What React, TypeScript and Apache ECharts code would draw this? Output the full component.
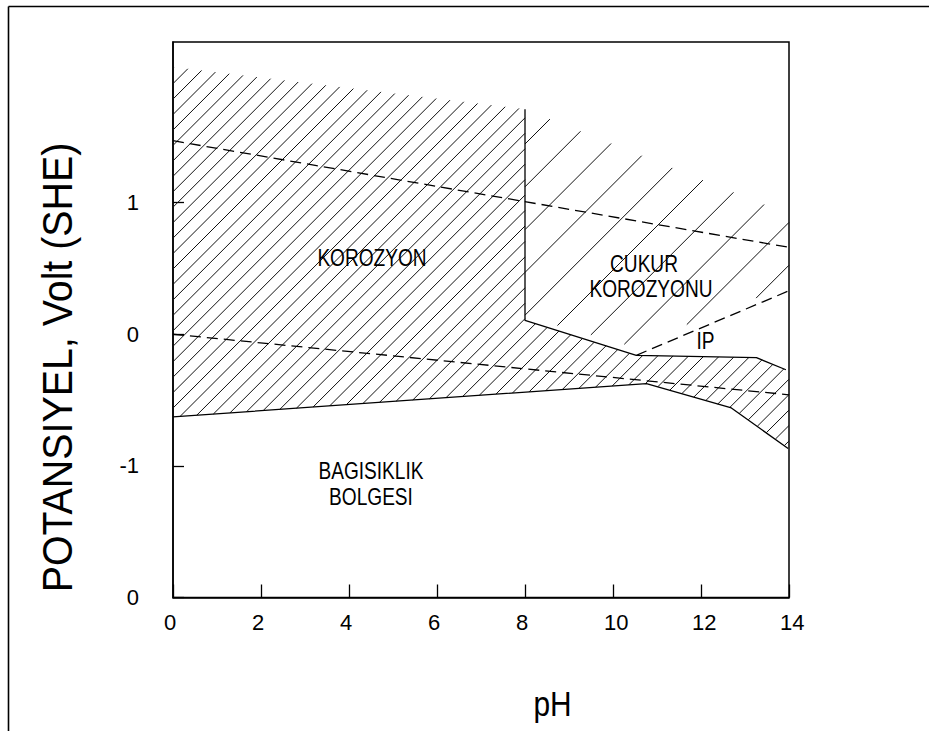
import React, { useEffect, useRef } from 'react';
import * as echarts from 'echarts';

// pH axis ticks and potential (V, SHE) axis ticks/labels as printed
const phTickValues = [0, 2, 4, 6, 8, 10, 12, 14];
const potentialTickValues = [-2, -1, 0, 1];
const potentialTickLabels = ['0', '-1', '0', '1'];

// Region outlines [pH, E (V)]
const corrosionZone = [
  [0, 2.03], [8, 1.71], [8, 0.105], [10.53, -0.16], [13.26, -0.178], [14, -0.28],
  [14, -0.87], [12.69, -0.56], [10.76, -0.375], [0, -0.628],
];
const pittingZone = [
  [8, 1.71], [14, 0.91], [14, 0.37], [10.4, -0.09], [8, 0.135],
];

// Boundary lines
const passiveBoundary = [[8, 1.71], [8, 0.105], [10.53, -0.16], [13.26, -0.178], [13.93, -0.27]];
const immunityBoundary = [[0, -0.628], [10.76, -0.375], [12.69, -0.56], [13.98, -0.868]];
const oxygenLine = [[0, 1.47], [14, 0.66]];
const hydrogenLine = [[0, 0], [14, -0.46]];
const pittingPotentialLine = [[10.53, -0.16], [14, 0.33]];

// Region labels
const regionLabels = [
  { text: 'KOROZYON', x: 372, y: 257.5 },
  { text: 'CUKUR', x: 644, y: 264 },
  { text: 'KOROZYONU', x: 651, y: 288.5 },
  { text: 'IP', x: 705.5, y: 341 },
  { text: 'BAGISIKLIK', x: 371, y: 471 },
  { text: 'BOLGESI', x: 371, y: 497 },
];

const DENSE_STEP = 15.45;
const DENSE_PHASE = 256.6;
const SPARSE_STEP = 42.8;
const SPARSE_PHASE = 669;

function hatch(poly: number[][], step: number, phase: number) {
  const sums = poly.map((p) => p[0] + p[1]);
  const cMin = Math.min(...sums);
  const cMax = Math.max(...sums);
  const kStart = Math.ceil((cMin - phase) / step);
  const kEnd = Math.floor((cMax - phase) / step);
  const segs: number[][][] = [];
  for (let k = kStart; k <= kEnd; k++) {
    const c = phase + k * step;
    const pts: number[][] = [];
    for (let i = 0; i < poly.length; i++) {
      const a = poly[i];
      const b = poly[(i + 1) % poly.length];
      const fa = a[0] + a[1] - c;
      const fb = b[0] + b[1] - c;
      if ((fa < 0 && fb >= 0) || (fb < 0 && fa >= 0)) {
        const t = fa / (fa - fb);
        pts.push([a[0] + t * (b[0] - a[0]), a[1] + t * (b[1] - a[1])]);
      }
    }
    pts.sort((p, q) => p[0] - q[0]);
    for (let j = 0; j + 1 < pts.length; j += 2) segs.push([pts[j], pts[j + 1]]);
  }
  return segs;
}

function hatchSeries(zone: number[][], step: number, phase: number) {
  return {
    type: 'custom',
    coordinateSystem: 'cartesian2d',
    silent: true,
    z: 1,
    data: [zone[0]],
    renderItem: (_params: any, api: any) => {
      const poly = zone.map((p) => api.coord(p));
      const segs = hatch(poly, step, phase);
      return {
        type: 'group',
        children: segs.map((s) => ({
          type: 'line',
          shape: { x1: s[0][0], y1: s[0][1], x2: s[1][0], y2: s[1][1] },
          style: { stroke: '#111', lineWidth: 1 },
        })),
      };
    },
  };
}

function lineSeries(data: number[][], dashed: boolean) {
  return {
    type: 'line',
    data,
    symbol: 'none',
    silent: true,
    z: 3,
    lineStyle: { color: '#000', width: 1.3, type: dashed ? [11, 6] : 'solid' },
  };
}

const FONT = "'Liberation Sans', Arial, sans-serif";

export default function App() {
  const ref = useRef<HTMLDivElement>(null);
  useEffect(() => {
    if (!ref.current) return;
    const chart = echarts.init(ref.current, null, { renderer: 'svg' });
    chart.setOption({
      animation: false,
      backgroundColor: '#fff',
      grid: {
        left: 173, top: 42, right: 140, bottom: 133.5,
        show: true, borderColor: '#000', borderWidth: 1.5, backgroundColor: 'transparent',
      },
      xAxis: {
        type: 'value', min: 0, max: 14, interval: 2,
        axisLine: { onZero: false, lineStyle: { color: '#000', width: 1.5 } },
        axisTick: { inside: true, length: 13, lineStyle: { color: '#000', width: 1.3 }, customValues: phTickValues },
        axisLabel: {
          color: '#000', fontSize: 22, fontFamily: FONT, margin: 14,
          align: 'left', padding: [0, 0, 0, -9], customValues: phTickValues,
        },
        splitLine: { show: false },
      },
      yAxis: {
        type: 'value', min: -2, max: 2.22, interval: 1,
        axisLine: { show: true, onZero: false, lineStyle: { color: '#000', width: 1.5 } },
        axisTick: { show: true, inside: true, length: 11, lineStyle: { color: '#000', width: 1.3 }, customValues: potentialTickValues },
        axisLabel: {
          color: '#000', fontSize: 22, fontFamily: FONT, margin: 34,
          customValues: potentialTickValues,
          formatter: (v: number) => {
            const i = potentialTickValues.indexOf(Math.round(v));
            return i >= 0 ? potentialTickLabels[i] : '';
          },
        },
        splitLine: { show: false },
      },
      series: [
        hatchSeries(corrosionZone, DENSE_STEP, DENSE_PHASE),
        hatchSeries(pittingZone, SPARSE_STEP, SPARSE_PHASE),
        lineSeries(passiveBoundary, false),
        lineSeries(immunityBoundary, false),
        lineSeries(oxygenLine, true),
        lineSeries(hydrogenLine, true),
        lineSeries(pittingPotentialLine, true),
      ],
      graphic: [
        { type: 'line', silent: true, shape: { x1: 8.5, y1: 6.5, x2: 929, y2: 6.5 }, style: { stroke: '#000', lineWidth: 1.6 } },
        { type: 'line', silent: true, shape: { x1: 8.5, y1: 6.5, x2: 8.5, y2: 731 }, style: { stroke: '#000', lineWidth: 1.6 } },
        ...regionLabels.map((l) => ({
          type: 'text', silent: true, x: l.x, y: l.y, scaleX: 0.83, z: 10,
          style: { text: l.text, fill: '#000', font: `23px ${FONT}`, align: 'center', verticalAlign: 'middle' },
        })),
        {
          type: 'text', silent: true, x: 552.5, y: 703, scaleX: 0.83, z: 10,
          style: { text: 'pH', fill: '#000', font: `36px ${FONT}`, align: 'center', verticalAlign: 'middle' },
        },
        {
          type: 'text', silent: true, x: 58, y: 367.5, rotation: Math.PI / 2, scaleX: 0.937, z: 10,
          style: { text: 'POTANSIYEL, Volt (SHE)', fill: '#000', font: `42px ${FONT}`, align: 'center', verticalAlign: 'middle' },
        },
      ],
    });
    return () => chart.dispose();
  }, []);
  return <div ref={ref} style={{ position: 'fixed', left: 0, top: 0, width: 929, height: 731 }} />;
}
